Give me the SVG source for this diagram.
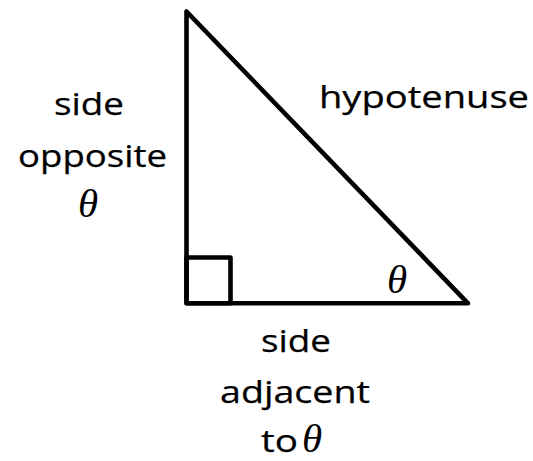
<svg xmlns="http://www.w3.org/2000/svg" width="533" height="461" viewBox="0 0 533 461">
<style>
.lbl{font-family:"Open Sans","Liberation Sans",sans-serif;font-size:31px;fill:#000;stroke:#000;stroke-width:0.25}
.th{font-family:"Liberation Serif","DejaVu Serif",serif;font-style:italic;font-size:41px;fill:#000}
.edge{fill:none;stroke:#000;stroke-width:4.6;stroke-linejoin:round}
</style>
<rect width="533" height="461" fill="#fff"/>
<g id="triangle">
<polygon class="edge" points="186.5,11.5 186.5,303.3 468,303.3"/>
<rect class="edge" x="186.5" y="257.5" width="44" height="45.8"/>
</g>
<g id="label-opposite">
<text class="lbl" x="54" y="115" textLength="70" lengthAdjust="spacingAndGlyphs">side</text>
<text class="lbl" x="18" y="167" textLength="149" lengthAdjust="spacingAndGlyphs">opposite</text>
<text class="th" x="78" y="217">θ</text>
</g>
<g id="label-hypotenuse">
<text class="lbl" x="319" y="108" textLength="210" lengthAdjust="spacingAndGlyphs">hypotenuse</text>
</g>
<g id="label-angle">
<text class="th" x="387" y="293">θ</text>
</g>
<g id="label-adjacent">
<text class="lbl" x="261" y="352" textLength="70" lengthAdjust="spacingAndGlyphs">side</text>
<text class="lbl" x="220" y="403" textLength="150" lengthAdjust="spacingAndGlyphs">adjacent</text>
<text class="lbl" x="261" y="452" textLength="37" lengthAdjust="spacingAndGlyphs">to</text>
<text class="th" x="302" y="452">θ</text>
</g>
</svg>
